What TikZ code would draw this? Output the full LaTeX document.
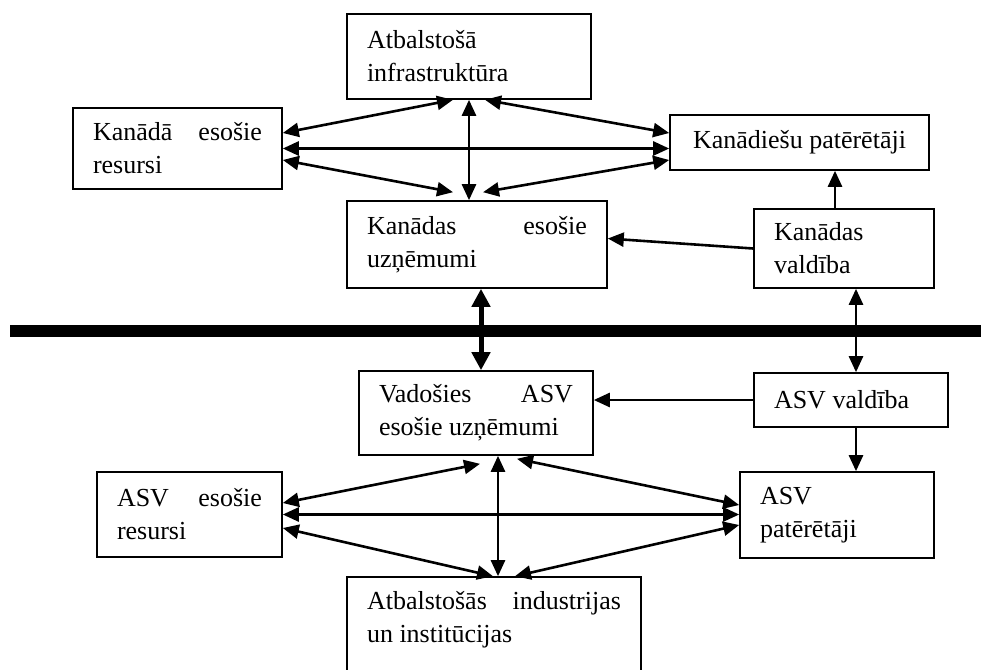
\documentclass[tikz,border=0pt]{standalone}
\usepackage{fontspec}
\setmainfont{Liberation Serif}
\usepackage{tikz}
\usetikzlibrary{arrows.meta,positioning,calc}

\tikzset{
  box/.style={draw, line width=0.8pt, inner xsep=10pt, inner ysep=0pt, align=flush left,
    font=\fontsize{13}{16.5}\selectfont},
  link/.style={line width=1.3pt},
  biglink/.style={line width=2.5pt, {Triangle[length=9pt,width=9pt]}-{Triangle[length=9pt,width=9pt]}},
  >={Triangle[length=8pt,width=7pt]}
}

\begin{document}
\begin{tikzpicture}[x=1pt,y=-1pt]
\useasboundingbox (0,0) rectangle (490.5,335);
\node[box, text width=102pt, minimum height=42.5pt] (infra) at (234.5,28.25) {Atbalstošā\\infrastruktūra};
\node[box, text width=84.5pt, minimum height=40.5pt] (resCA) at (88.75,74.25) {Kanādā\hfill esošie\\resursi};
\node[box, minimum width=129.5pt, minimum height=27.5pt] (consCA) at (399.75,71.25) {Kanādiešu patērētāji};
\node[box, text width=110pt, minimum height=43.5pt] (firmCA) at (238.5,122.25) {Kanādas\hfill esošie\\uzņēmumi};
\node[box, text width=70pt, minimum height=39.5pt] (govCA) at (422,124.25) {Kanādas\\valdība};
\node[box, text width=97pt, minimum height=42pt] (firmUS) at (238,206.5) {Vadošies\hfill ASV\\esošie uzņēmumi};
\node[box, text width=77pt, minimum height=27pt] (govUS) at (425.5,200) {ASV valdība};
\node[box, text width=72.5pt, minimum height=42.5pt] (resUS) at (94.75,257.25) {ASV\hfill esošie\\resursi};
\node[box, text width=77pt, minimum height=43pt] (consUS) at (418.5,257.5) {ASV\\patērētāji};
\node[box, text width=127pt, minimum height=56.5pt] (indUS) at (247,316.75) {Atbalstošās\hfill industrijas\\un institūcijas\\\mbox{}};

% Kanada
\draw[link,<->] (infra.south) -- (infra.south |- firmCA.north);
\draw[link,<->] ([yshift=7.75pt]resCA.east) -- ([xshift=-8pt]infra.south);
\draw[link,<->] (resCA.east) -- (resCA.east -| consCA.west);
\draw[link,<->] ([yshift=-5.75pt]resCA.east) -- ([xshift=-12pt,yshift=4pt]firmCA.north);
\draw[link,<->] ([xshift=8pt]infra.south) -- ([yshift=4.75pt]consCA.west);
\draw[link,<->] ([xshift=3pt,yshift=4pt]firmCA.north) -- ([yshift=-8.75pt]consCA.west);
\draw[link,->] ([xshift=-4.5pt]govCA.north) -- ([xshift=-4.5pt]govCA.north |- consCA.south);
\draw[link,->] (govCA.west) -- ([yshift=3pt]firmCA.east);

\coordinate (divL) at (5,165.5);
\coordinate (divR) at (495,165.5);
\draw[line width=6pt] (divL) -- (divR);

\draw[biglink] ([xshift=2pt]firmCA.south) -- ([xshift=2pt]firmCA.south |- firmUS.north);
\draw[link,<->] ([xshift=6pt]govCA.south) -- ([xshift=6pt]govCA.south |- govUS.north);

% ASV
\draw[link,->] (govUS.west) -- (govUS.west -| firmUS.east);
\draw[link,->] ([xshift=2.5pt]govUS.south) -- ([xshift=2.5pt]govUS.south |- consUS.north);
\draw[link,<->] ([xshift=11pt]firmUS.south) -- ([xshift=11pt]firmUS.south |- indUS.north);
\draw[link,<->] ([yshift=5.75pt]resUS.east) -- ([xshift=2pt,yshift=-4pt]firmUS.south);
\draw[link,<->] (resUS.east) -- (resUS.east -| consUS.west);
\draw[link,<->] ([yshift=-6.75pt]resUS.east) -- ([xshift=-0.5pt]indUS.north);
\draw[link,<->] ([xshift=20.5pt,yshift=-1.5pt]firmUS.south) -- ([yshift=5pt]consUS.west);
\draw[link,<->] ([xshift=10.5pt]indUS.north) -- ([yshift=-5pt]consUS.west);
\end{tikzpicture}
\end{document}
